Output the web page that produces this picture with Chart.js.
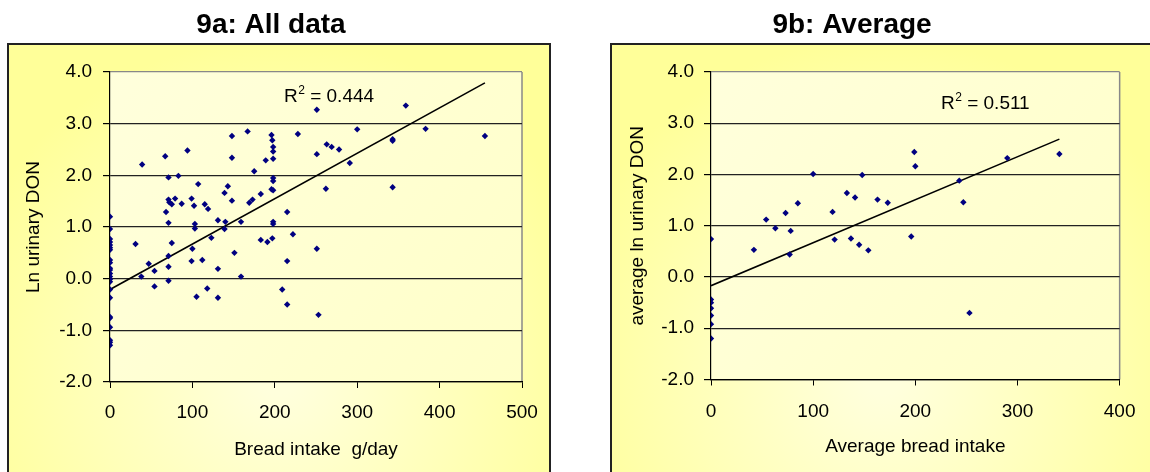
<!DOCTYPE html>
<html>
<head>
<meta charset="utf-8">
<script src="https://cdn.jsdelivr.net/npm/chart.js@4.4.0/dist/chart.umd.min.js"></script>
<style>
  body { margin: 0; width: 1150px; height: 472px; overflow: hidden; background: #fff; }
  canvas { position: absolute; top: 0; }
  #chartAll { left: 0; }
  #chartAvg { left: 580px; }
</style>
</head>
<body>
<canvas id="chartAll" width="580" height="472"></canvas>
<canvas id="chartAvg" width="570" height="472"></canvas>
<script>
const FONT = '"Liberation Sans", Arial, sans-serif';

// 9a: every sample, bread intake (g/day) vs ln urinary DON
const allBread = [
  0, 0, 0, 0, 0, 0, 0, 0, 0, 0, 0, 0, 0, 0, 0, 0, 0, 0, 0, 0, 0, 0, 0,
  31, 38, 39, 47, 54, 54, 67, 68, 71, 71, 72, 75, 79, 71, 71, 71, 71, 75,
  83, 87, 94, 99, 102, 103, 103, 100, 99, 105, 107, 112, 115, 119, 118, 123,
  131, 131, 131, 139, 139, 140, 143, 148, 148, 148, 151, 159, 159, 167, 169,
  173, 175, 183, 183, 189, 191, 196, 197, 198, 198, 198, 198, 198, 196, 198,
  198, 198, 197, 209, 215, 215, 215, 222, 228, 251, 251, 251, 253, 262, 263,
  269, 278, 291, 300, 343, 343, 343, 359, 383, 455
];
const allDon = [
  1.20, 0.96, 0.77, 0.71, 0.65, 0.60, 0.56, 0.36, 0.31, 0.20, 0.17, 0.10, 0.04,
  -0.01, -0.06, -0.21, -0.37, -0.74, -0.76, -0.94, -1.19, -1.23, -1.29,
  0.67, 0.04, 2.21, 0.29, 0.15, -0.15, 2.37, 1.29, 1.96, 1.53, 1.48, 1.44, 1.55, 1.08, 0.44, 0.23, -0.04, 0.69,
  1.99, 1.45, 2.48, 1.55, 1.41, 1.06, 0.97, 0.58, 0.34, -0.35, 1.83, 0.36, 1.44, 1.35, -0.19, 0.79,
  1.13, 0.19, -0.37, 1.66, 0.96, 1.10, 1.79, 2.76, 2.34, 1.51, 0.50, 1.10, 0.04, 2.85, 1.47,
  1.53, 2.08, 1.64, 0.75, 2.29, 0.71, 2.78, 2.68, 2.55, 2.46, 2.32, 1.95, 1.89, 1.73, 1.71,
  1.10, 1.06, 0.78, -0.21, 1.29, 0.34, -0.50, 0.86, 2.80, 3.27, 2.41, 0.58, -0.70, 1.74, 2.60,
  2.55, 2.50, 2.24, 2.89, 2.70, 2.67, 1.77, 3.35, 2.90, 2.76
];

// 9b: per-person averages
const avgBread = [
  0, 0, 0, 0, 0, 0, 0,
  42, 54, 63, 73, 77, 78, 85, 100, 119, 121, 133, 137, 141, 145, 148, 154,
  163, 173, 196, 199, 200, 243, 247, 253, 290, 341
];
const avgDon = [
  0.74, -0.44, -0.50, -0.61, -0.75, -0.92, -1.20,
  0.53, 1.12, 0.95, 1.25, 0.44, 0.90, 1.44, 2.01, 1.27, 0.73, 1.64, 0.75, 1.55, 0.63, 1.99, 0.52,
  1.51, 1.45, 0.79, 2.44, 2.16, 1.88, 1.46, -0.70, 2.32, 2.40
];

// linear trend lines, start and end of the fitted range
const fitAllX = [0, 455];
const fitAllY = [-0.21, 3.79];
const fitAvgX = [0, 341];
const fitAvgY = [-0.17, 2.69];

const r2All = '0.444';
const r2Avg = '0.511';

const toPoints = (xs, ys) => xs.map((x, i) => ({ x: x, y: ys[i] }));

// yellow panel, plot background, titles and R² note
const framePlugin = {
  id: 'frame',
  beforeDraw(chart, args, o) {
    const ctx = chart.ctx;
    const a = chart.chartArea;
    const b = o.box;
    ctx.save();
    const cx = b.x + b.w / 2, cy = b.y + b.h * 0.75;
    const g = ctx.createRadialGradient(cx, cy, 20, cx, cy, b.w * 0.62);
    g.addColorStop(0, '#ffffdc');
    g.addColorStop(1, '#ffff99');
    ctx.fillStyle = g;
    ctx.fillRect(b.x, b.y, b.w, b.h);
    ctx.lineWidth = 2;
    ctx.strokeStyle = '#222';
    ctx.strokeRect(b.x, b.y, b.w, b.h);

    const pg = ctx.createLinearGradient(a.left, a.top, a.right, a.bottom);
    pg.addColorStop(0, '#ffffdc');
    pg.addColorStop(1, '#ffffc8');
    ctx.fillStyle = pg;
    ctx.fillRect(a.left, a.top, a.right - a.left, a.bottom - a.top);

    // right edge of plot area
    ctx.strokeStyle = '#888';
    ctx.lineWidth = 1.5;
    ctx.beginPath();
    ctx.moveTo(a.right, a.top);
    ctx.lineTo(a.right, a.bottom);
    ctx.stroke();
    ctx.restore();
  },
  afterDraw(chart, args, o) {
    const ctx = chart.ctx;
    const a = chart.chartArea;
    ctx.save();
    ctx.fillStyle = '#000';
    ctx.textBaseline = 'alphabetic';
    ctx.textAlign = 'center';
    ctx.font = 'bold 28px ' + FONT;
    ctx.fillText(o.title, o.titleX, 33);

    ctx.textAlign = 'left';
    let x = a.left + o.noteDx;
    const y = a.top + o.noteDy;
    ctx.font = '19px ' + FONT;
    ctx.fillText('R', x, y);
    x += ctx.measureText('R').width + 0.5;
    ctx.font = '12px ' + FONT;
    ctx.fillText('2', x, y - 8);
    x += ctx.measureText('2').width;
    ctx.font = '19px ' + FONT;
    ctx.fillText(' = ' + o.note, x, y);
    ctx.restore();
  }
};

function makeChart(id, s) {
  return new Chart(document.getElementById(id), {
    type: 'scatter',
    data: {
      datasets: [{
        data: toPoints(s.xs, s.ys),
        pointStyle: 'rectRot',
        pointRadius: 3.2,
        borderWidth: 0,
        backgroundColor: '#000080',
        borderColor: '#000080'
      }, {
        data: toPoints(s.fitX, s.fitY),
        showLine: true,
        pointRadius: 0,
        borderColor: '#000',
        borderWidth: 1.6
      }]
    },
    options: {
      responsive: false,
      animation: false,
      devicePixelRatio: 1,
      layout: { padding: { top: 72, right: s.padRight, left: 0, bottom: 0 } },
      plugins: {
        legend: { display: false },
        tooltip: { enabled: false },
        frame: s.frame
      },
      scales: {
        x: {
          type: 'linear',
          min: 0,
          max: s.xMax,
          afterFit(scale) { scale.height = s.xAxisH; },
          ticks: {
            stepSize: 100,
            color: '#000',
            padding: s.xTickPad,
            font: { family: FONT, size: 19 }
          },
          grid: { drawOnChartArea: false, color: '#000', tickLength: 6 },
          border: { color: '#000', width: 1.2 },
          title: {
            display: true,
            text: s.xTitle,
            color: '#000',
            padding: { top: 0, bottom: s.xTitlePad },
            font: { family: FONT, size: 19 }
          }
        },
        y: {
          min: -2,
          max: 4,
          afterFit(scale) { scale.width = s.yAxisW; },
          ticks: {
            stepSize: 1,
            color: '#000',
            padding: s.yTickPad,
            font: { family: FONT, size: 19 },
            callback: v => v.toFixed(1)
          },
          grid: {
            color: ctx => ctx.tick && ctx.tick.value === 4 ? '#888' : '#222',
            tickColor: '#000',
            tickLength: 7,
            lineWidth: 1.2
          },
          border: { color: '#000', width: 1.2 },
          title: {
            display: true,
            text: s.yTitle,
            color: '#000',
            padding: { top: s.yTitlePad, bottom: 0 },
            font: { family: FONT, size: 19 }
          }
        }
      }
    },
    plugins: [framePlugin]
  });
}

makeChart('chartAll', {
  xs: allBread, ys: allDon, fitX: fitAllX, fitY: fitAllY,
  xMax: 500, padRight: 58, xAxisH: 90, yAxisW: 110,
  xTickPad: 13.5, yTickPad: 11, xTitlePad: 10.6, yTitlePad: 22.6,
  xTitle: 'Bread intake  g/day', yTitle: 'Ln urinary DON',
  frame: { box: { x: 8, y: 44, w: 542, h: 440 }, title: '9a: All data', titleX: 271,
           note: r2All, noteDx: 174, noteDy: 30 }
});

makeChart('chartAvg', {
  xs: avgBread, ys: avgDon, fitX: fitAvgX, fitY: fitAvgY,
  xMax: 400, padRight: 28, xAxisH: 92.5, yAxisW: 131,
  xTickPad: 14.5, yTickPad: 10, xTitlePad: 13.9, yTitlePad: 46,
  xTitle: 'Average bread intake', yTitle: 'average ln urinary DON',
  frame: { box: { x: 31, y: 44, w: 542, h: 440 }, title: '9b: Average', titleX: 272,
           note: r2Avg, noteDx: 230, noteDy: 37 }
});
</script>
</body>
</html>
